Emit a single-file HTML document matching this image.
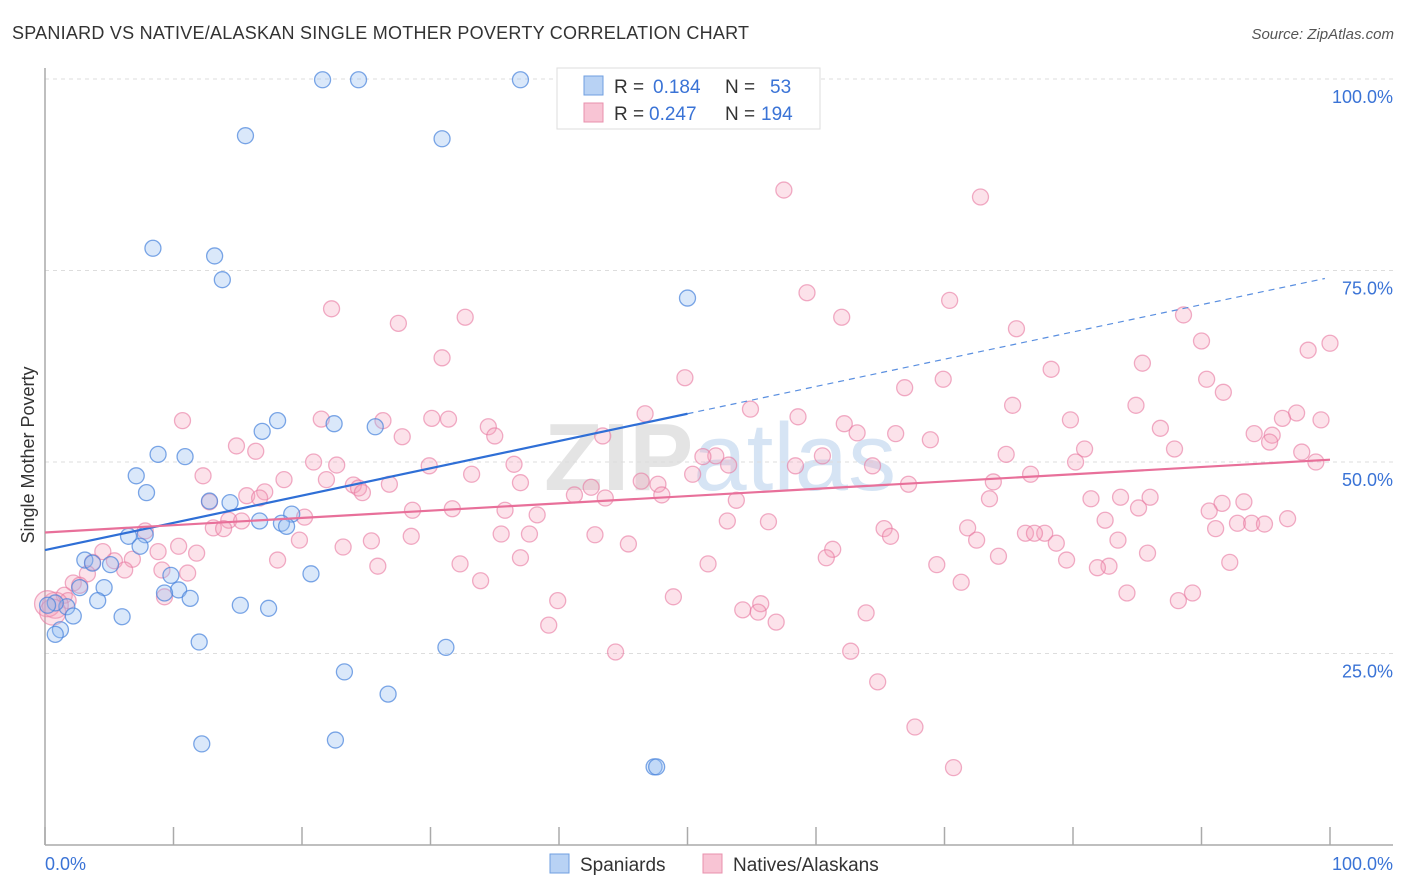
<!DOCTYPE html>
<html><head><meta charset="utf-8"><style>
body{margin:0;background:#fff;font-family:"Liberation Sans",sans-serif}
svg{display:block}
</style></head><body>
<svg id="chart" width="1406" height="892">
<text x="12" y="39" font-size="18" fill="#333" textLength="737">SPANIARD VS NATIVE/ALASKAN SINGLE MOTHER POVERTY CORRELATION CHART</text>
<text x="1394" y="39" font-size="15" fill="#555" font-style="italic" text-anchor="end">Source: ZipAtlas.com</text>
<text x="720" y="490" font-size="96" fill="#e4e4e4" text-anchor="middle" font-weight="bold">ZIP<tspan fill="#d6e4f4" font-weight="normal">atlas</tspan></text>
<g id="grid"></g>
<g id="axes"></g>
<g id="pts"></g>
<g id="lines"></g>
<text x="0" y="0" transform="translate(34,455) rotate(-90)" font-size="18" fill="#333" text-anchor="middle">Single Mother Poverty</text>
<text x="45" y="870" font-size="18" fill="#3a73d6">0.0%</text>
<text x="1393" y="870" font-size="18" fill="#3a73d6" text-anchor="end">100.0%</text>
<g>
<rect x="557" y="68" width="263" height="61" fill="#fff" stroke="#ddd"/>
<rect x="584" y="76" width="19" height="19" fill="#b8d2f4" stroke="#6f9fe0"/>
<rect x="584" y="103" width="19" height="19" fill="#f8c4d4" stroke="#e890ad"/>
<text x="614" y="93" font-size="19" fill="#333">R =</text>
<text x="653" y="93" font-size="19" fill="#3a73d6">0.184</text>
<text x="725" y="93" font-size="19" fill="#333">N =</text>
<text x="770" y="93" font-size="19" fill="#3a73d6">53</text>
<text x="614" y="120" font-size="19" fill="#333">R =</text>
<text x="649" y="120" font-size="19" fill="#3a73d6">0.247</text>
<text x="725" y="120" font-size="19" fill="#333">N =</text>
<text x="761" y="120" font-size="19" fill="#3a73d6">194</text>
</g>
<g><rect x="550" y="854" width="19" height="19" fill="#b8d2f4" stroke="#6f9fe0"/><text x="580" y="871" font-size="19" fill="#333">Spaniards</text></g>
<g><rect x="703" y="854" width="19" height="19" fill="#f8c4d4" stroke="#e890ad"/><text x="733" y="871" font-size="19" fill="#333">Natives/Alaskans</text></g>
</svg>
<script>
const yTicks=[25,50,75,100];
const yTickLabels=["25.0%","50.0%","75.0%","100.0%"];
const xTicks=[0,10,20,30,40,50,60,70,80,90,100];
const blueX=[21.6,24.4,37.0,15.6,30.9,8.4,13.2,13.8,50.0,18.1,22.5,25.7,16.9,8.8,10.9,7.1,7.9,12.8,14.4,19.2,16.7,18.4,18.8,7.8,6.5,7.4,3.1,3.7,5.1,9.8,20.7,2.7,4.6,10.4,9.3,11.3,4.1,15.2,17.4,1.7,2.2,6.0,0.8,0.2,1.2,0.8,12.0,31.2,23.3,26.7,22.6,12.2,47.4,47.6];
const blueY=[99.9,99.9,99.9,92.6,92.2,77.9,76.9,73.8,71.4,55.4,55.0,54.6,54.0,51.0,50.7,48.2,46.0,44.9,44.7,43.2,42.3,42.0,41.6,40.5,40.3,39.0,37.2,36.8,36.6,35.2,35.4,33.6,33.6,33.3,32.9,32.2,31.9,31.3,30.9,31.1,29.9,29.8,31.6,31.3,28.1,27.5,26.5,25.8,22.6,19.7,13.7,13.2,10.2,10.2];
const pinkX=[57.5,72.8,59.3,70.4,22.3,62.0,32.7,27.5,75.6,88.6,90.0,100,98.3,30.9,85.4,78.3,49.8,69.9,90.4,66.9,91.7,84.9,54.9,75.3,46.7,58.6,79.8,97.4,96.3,99.3,10.7,21.5,26.3,30.1,31.4,34.5,62.2,63.2,86.8,94.1,95.5,95.3,97.8,43.4,27.8,35.0,14.9,16.4,68.9,66.2,80.9,87.9,98.9,52.2,74.8,60.5,64.4,51.2,58.4,20.9,22.7,29.9,36.5,80.2,12.3,18.6,21.9,33.2,50.4,53.2,76.7,46.4,47.7,42.5,24.0,37.0,24.4,26.8,67.2,73.8,15.7,17.1,41.2,43.6,48.0,73.5,81.4,83.7,85.1,86.0,91.6,93.3,90.6,12.8,16.7,24.7,31.7,28.6,35.8,53.8,38.3,14.3,15.3,20.2,53.1,56.3,82.5,92.8,93.9,94.9,96.7,13.1,13.9,65.3,65.8,71.8,76.3,77.8,91.1,77.0,35.5,37.7,42.8,28.5,7.8,19.8,45.4,72.5,78.7,83.5,10.4,8.8,4.5,6.8,11.8,23.2,25.4,61.3,60.8,79.5,74.2,85.8,5.4,6.2,3.7,3.3,9.1,11.1,18.1,37.0,51.6,69.4,82.8,81.9,92.2,25.9,32.3,33.9,71.3,2.2,2.7,1.5,1.8,9.3,48.9,39.9,84.2,89.3,88.2,55.7,54.3,63.9,56.9,55.5,39.2,44.4,62.7,64.8,67.7,70.7,0.8,0.2,0.6];
const pinkY=[85.5,84.6,72.1,71.1,70.0,68.9,68.9,68.1,67.4,69.2,65.8,65.5,64.6,63.6,62.9,62.1,61.0,60.8,60.8,59.7,59.1,57.4,56.9,57.4,56.3,55.9,55.5,56.4,55.7,55.5,55.4,55.6,55.4,55.7,55.6,54.6,55.0,53.8,54.4,53.7,53.5,52.6,51.3,53.4,53.3,53.4,52.1,51.4,52.9,53.7,51.7,51.7,50.0,50.8,51.0,50.8,49.5,50.7,49.5,50.0,49.6,49.5,49.7,50.0,48.2,47.7,47.7,48.4,48.4,49.6,48.4,47.5,47.1,46.7,47.0,47.3,46.6,47.1,47.1,47.4,45.6,46.1,45.7,45.3,45.7,45.2,45.2,45.4,44.0,45.4,44.6,44.8,43.6,44.8,45.3,46.0,43.9,43.7,43.7,45.0,43.1,42.4,42.3,42.8,42.3,42.2,42.4,42.0,42.0,41.9,42.6,41.4,41.3,41.3,40.3,41.4,40.7,40.7,41.3,40.7,40.6,40.6,40.5,40.3,41.0,39.8,39.3,39.8,39.4,39.8,39.0,38.3,38.3,37.3,38.1,38.9,39.7,38.6,37.5,37.2,37.7,38.1,37.1,35.9,36.9,35.4,35.9,35.5,37.2,37.5,36.7,36.6,36.4,36.2,36.9,36.4,36.7,34.5,34.3,34.2,33.9,32.6,31.9,32.4,32.4,31.9,32.9,32.9,31.9,31.5,30.7,30.3,29.1,30.4,28.7,25.2,25.3,21.3,15.4,10.1,31.3,31.5,30.4];
const blueTrend=[38.5,56.3];
const pinkTrend=[40.8,50.3];
const X=v=>45+v*12.85, Y=v=>845-v*7.66;
const NS="http://www.w3.org/2000/svg";
function mk(tag,attrs,parent){const e=document.createElementNS(NS,tag);for(const k in attrs)e.setAttribute(k,attrs[k]);document.getElementById(parent).appendChild(e);return e;}
yTicks.forEach((t,i)=>{
 const g=mk('line',{x1:45,x2:1393,y1:Y(t),y2:Y(t),stroke:'#ddd','stroke-dasharray':'4,4'},'grid');
 
 
 const l=mk('text',{x:1393,y:Y(t)+24,'font-size':18,fill:'#3a73d6','text-anchor':'end'},'grid');
 l.textContent=yTickLabels[i];
 
 
});
const ax=mk('line',{x1:45,x2:45,y1:68,y2:845,stroke:'#aaa','stroke-width':1.5},'axes');


const bx=mk('line',{x1:45,x2:1393,y1:845,y2:845,stroke:'#aaa','stroke-width':1.5},'axes');


xTicks.forEach(t=>{
 const e=mk('line',{x1:X(t),x2:X(t),y1:827,y2:845,stroke:'#aaa','stroke-width':1.5},'axes');
 
 
});
pinkX.forEach((x,i)=>{
 const big=x<1.5&&pinkY[i]>29&&pinkY[i]<33;
 const c=mk('circle',{cx:X(x),cy:Y(pinkY[i]),r:big?13:8,fill:'rgba(244,160,187,0.3)',stroke:'rgba(232,120,160,0.6)','stroke-width':1.3},'pts');
 
 
});
blueX.forEach((x,i)=>{
 const c=mk('circle',{cx:X(x),cy:Y(blueY[i]),r:8,fill:'rgba(150,190,240,0.35)',stroke:'rgba(70,130,220,0.7)','stroke-width':1.3},'pts');
 
 
});
const b1=mk('line',{x1:X(0),y1:Y(blueTrend[0]),x2:X(50),y2:Y(blueTrend[1]),stroke:'#2f6fd6','stroke-width':2.2},'lines');


const slope=(blueTrend[1]-blueTrend[0])/50;
const b2=mk('line',{x1:X(50),y1:Y(blueTrend[1]),x2:X(99.6),y2:Y(blueTrend[0]+slope*99.6),stroke:'#5a8fe0','stroke-width':1.2,'stroke-dasharray':'6,5'},'lines');


const p1=mk('line',{x1:X(0),y1:Y(pinkTrend[0]),x2:X(100),y2:Y(pinkTrend[1]),stroke:'#e8709a','stroke-width':2.2},'lines');


</script>
</body></html>
